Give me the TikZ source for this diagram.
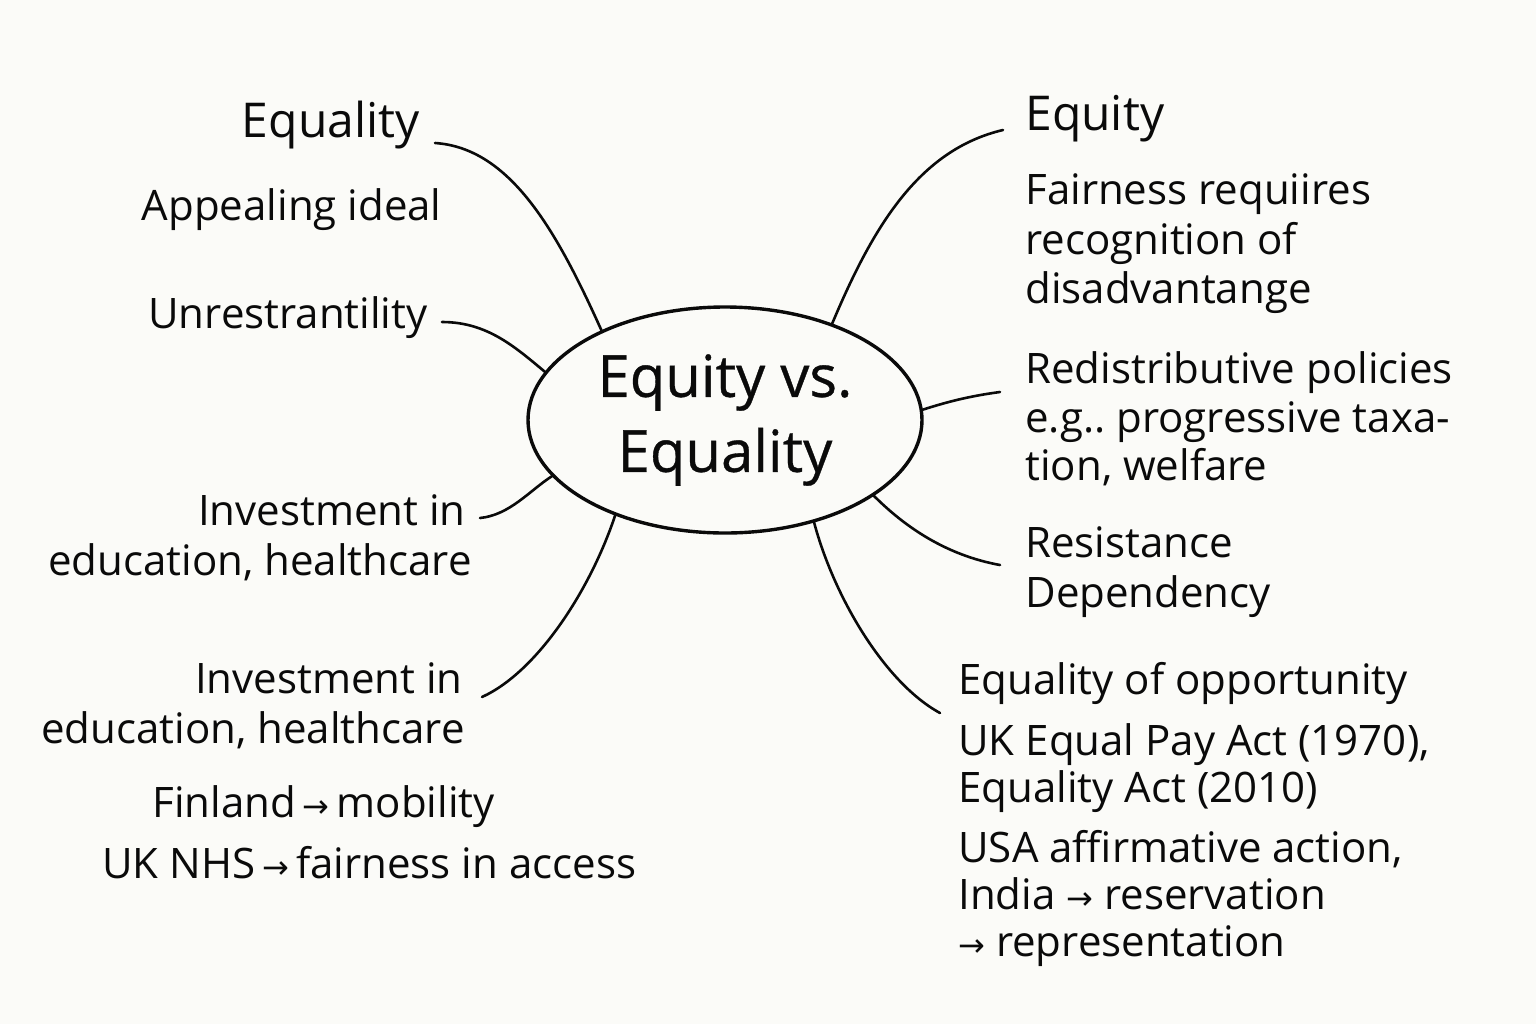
\documentclass[tikz,border=0pt]{standalone}
\usepackage{fontspec}
\setmainfont{Open Sans}
\newfontfamily\arrowfont{DejaVu Sans}
\newfontfamily\hubfont[FakeBold=0.6]{Open Sans}
\newcommand\myarr{{\arrowfont\fontsize{16}{16}\selectfont\char"2192}}
\usetikzlibrary{shapes.geometric}
\definecolor{bg}{HTML}{FBFBF8}
\definecolor{ink}{HTML}{0A0A0A}
\frenchspacing
\begin{document}
\begin{tikzpicture}[x=0.5pt,y=-0.5pt,
  lbl/.style={font=\fontsize{21}{25}\selectfont, inner sep=0pt, text=ink},
  ttl/.style={font=\fontsize{24}{28}\selectfont, inner sep=0pt, text=ink},
  link/.style={line width=1.3pt, line cap=round, draw=ink},
  hub/.style={draw=ink, ellipse, line width=1.7pt, minimum width=197pt, minimum height=113pt, inner sep=0pt, align=center, font=\hubfont\fontsize{29}{37.5}\selectfont, text=ink}]
\useasboundingbox[fill=bg] (0,0) rectangle (1536,1024);

\node[hub] (c) at (725,420) {Equity vs.\\Equality};

% left side
\node[ttl, anchor=base east] (eqL) at (420,137) {Equality};
\node[lbl, anchor=base east] (app) at (442,220) {Appealing ideal};
\node[lbl, anchor=base east] (unr) at (428,328) {Unrestrantility};
\node[lbl, anchor=base east] (inv1) at (466,525) {Investment in};
\node[lbl, anchor=base east] (edu1) at (472,575) {education, healthcare};
\node[lbl, anchor=base east] (inv2) at (463,693) {Investment in};
\node[lbl, anchor=base east] (edu2) at (465,743) {education, healthcare};
\node[lbl, anchor=base west] (fin) at (152,817) {Finland\,\myarr\,mobility};
\node[lbl, anchor=base west] (nhs) at (102,878) {UK NHS\,\myarr\,fairness in access};

% right side
\node[ttl, anchor=base west] (eqR) at (1025,130) {Equity};
\node[lbl, anchor=base west] (fa1) at (1025,204) {Fairness requiires};
\node[lbl, anchor=base west] (fa2) at (1025,254) {recognition of};
\node[lbl, anchor=base west] (fa3) at (1025,303) {disadvantange};
\node[lbl, anchor=base west] (re1) at (1025,383) {Redistributive policies};
\node[lbl, anchor=base west] (re2) at (1025,432) {e.g.. progressive taxa-};
\node[lbl, anchor=base west] (re3) at (1025,480) {tion, welfare};
\node[lbl, anchor=base west] (rs1) at (1025,557) {Resistance};
\node[lbl, anchor=base west] (rs2) at (1025,607) {Dependency};
\node[lbl, anchor=base west] (op1) at (958,694) {Equality of opportunity};
\node[lbl, anchor=base west] (op2) at (958,755) {UK Equal Pay Act (1970),};
\node[lbl, anchor=base west] (op3) at (958,802) {Equality Act (2010)};
\node[lbl, anchor=base west] (op4) at (958,862) {USA affirmative action,};
\node[lbl, anchor=base west] (op5) at (958,909) {India \myarr\ reservation};
\node[lbl, anchor=base west] (op6) at (958,956) {\myarr\ representation};

% connectors
\draw[link] ([shift={(15,6)}]eqL.base east) .. controls +(75,5) and +(-45,-100) .. (c.144);
\draw[link] ([shift={(14,-6)}]unr.base east) .. controls +(45,0) and +(-30,-25) .. (c.165.5);
\draw[link] ([shift={(14,-7)}]inv1.base east) .. controls +(30,-3) and +(-22,14) .. (c.198);
\draw[link] ([shift={(19,4)}]inv2.base east) .. controls +(55,-25) and +(-25,75) .. (c.221);
\draw[link] ([shift={(-22,0)}]eqR.base west) .. controls +(-85,20) and +(40,-95) .. (c.42);
\draw[link] ([shift={(-25,9)}]re1.base west) .. controls +(-30,4) and +(25,-8) .. (c.3.5);
\draw[link] ([shift={(-25,8)}]rs1.base west) .. controls +(-55,-10) and +(30,30) .. (c.333);
\draw[link] ([shift={(-18,19)}]op1.base west) .. controls +(-55,-30) and +(20,75) .. (c.311);
\end{tikzpicture}
\end{document}
